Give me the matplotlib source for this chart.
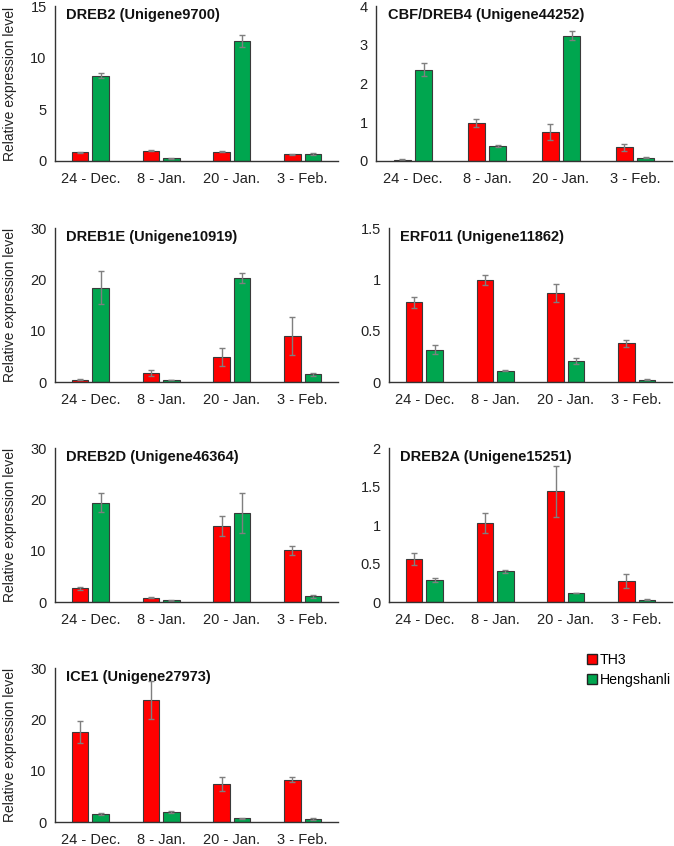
import numpy as np
import matplotlib
matplotlib.use('Agg')
import matplotlib.pyplot as plt
from matplotlib.patches import Patch

plt.rcParams['font.family'] = ['Liberation Sans', 'DejaVu Sans']

dates = ['24 - Dec.', '8 - Jan.', '20 - Jan.', '3 - Feb.']
series = ['TH3', 'Hengshanli']

# gene panels: title, y max, y ticks, TH3 mean/err, Hengshanli mean/err
titles = ['DREB2 (Unigene9700)', 'CBF/DREB4 (Unigene44252)', 'DREB1E (Unigene10919)',
          'ERF011 (Unigene11862)', 'DREB2D (Unigene46364)', 'DREB2A (Unigene15251)',
          'ICE1 (Unigene27973)']
ymax = [15, 4, 30, 1.5, 30, 2, 30]
yticks = [[0, 5, 10, 15], [0, 1, 2, 3, 4], [0, 10, 20, 30], [0, 0.5, 1, 1.5],
          [0, 10, 20, 30], [0, 0.5, 1, 1.5, 2], [0, 10, 20, 30]]
ytick_labels = [['0', '5', '10', '15'], ['0', '1', '2', '3', '4'], ['0', '10', '20', '30'],
                ['0', '0.5', '1', '1.5'], ['0', '10', '20', '30'],
                ['0', '0.5', '1', '1.5', '2'], ['0', '10', '20', '30']]

th3 = [[0.84, 0.97, 0.90, 0.65],
       [0.035, 0.98, 0.75, 0.35],
       [0.45, 1.8, 4.9, 8.96],
       [0.776, 0.99, 0.87, 0.377],
       [2.7, 0.85, 14.9, 10.06],
       [0.563, 1.03, 1.437, 0.273],
       [17.5, 23.8, 7.4, 8.2]]
th3_err = [[0.07, 0.05, 0.07, 0.04],
           [0.01, 0.1, 0.2, 0.08],
           [0.1, 0.6, 1.8, 3.7],
           [0.055, 0.05, 0.088, 0.035],
           [0.3, 0.1, 1.95, 0.85],
           [0.078, 0.13, 0.33, 0.09],
           [2.1, 3.7, 1.4, 0.5]]
heng = [[8.25, 0.26, 11.6, 0.65],
        [2.36, 0.38, 3.23, 0.09],
        [18.4, 0.4, 20.3, 1.5],
        [0.315, 0.11, 0.208, 0.023],
        [19.35, 0.3, 17.3, 1.1],
        [0.28, 0.40, 0.117, 0.03],
        [1.56, 1.95, 0.7, 0.65]]
heng_err = [[0.25, 0.03, 0.6, 0.1],
            [0.17, 0.02, 0.12, 0.01],
            [3.3, 0.05, 1.0, 0.25],
            [0.045, 0.005, 0.03, 0.003],
            [1.8, 0.05, 3.9, 0.3],
            [0.026, 0.017, 0.005, 0.005],
            [0.1, 0.1, 0.05, 0.2]]

red = '#ff0000'
green = '#00a64f'
W, H = 674, 846

# axes boxes in pixels: left, right, top, bottom
boxes = [(55, 338, 6, 161), (376, 672, 6, 161),
         (55, 338, 228, 382), (389, 672, 228, 382),
         (55, 338, 448, 602), (389, 672, 448, 602),
         (55, 338, 668, 822)]

fig = plt.figure(figsize=(W / 100, H / 100), dpi=100)
x = np.arange(len(dates))
bw = 0.23
ekw = dict(ecolor='#7f7f7f', elinewidth=1, capsize=2.5, capthick=1)
for i in range(len(titles)):
    l, r, t, b = boxes[i]
    ax = fig.add_axes([l / W, 1 - b / H, (r - l) / W, (b - t) / H])
    ax.bar(x - 0.145, th3[i], bw, yerr=th3_err[i], color=red, edgecolor='#3a3a3a',
           linewidth=0.8, error_kw=ekw)
    ax.bar(x + 0.145, heng[i], bw, yerr=heng_err[i], color=green, edgecolor='#3a3a3a',
           linewidth=0.8, error_kw=ekw)
    ax.set_xlim(-0.5, 3.5)
    ax.set_ylim(0, ymax[i])
    ax.set_yticks(yticks[i])
    ax.set_yticklabels(ytick_labels[i])
    ax.set_xticks(x)
    ax.set_xticklabels(dates)
    ax.tick_params(axis='both', length=0, labelsize=10.5, colors='#222222')
    ax.tick_params(axis='x', pad=8)
    ax.tick_params(axis='y', pad=6)
    for s in ['top', 'right']:
        ax.spines[s].set_visible(False)
    for s in ['left', 'bottom']:
        ax.spines[s].set_color('#333333')
        ax.spines[s].set_linewidth(1)
    ax.text(0.04, 0.985, titles[i], transform=ax.transAxes, va='top', ha='left',
            fontsize=10.5, fontweight='bold', color='#111111')
    if l < 100:
        ax.set_ylabel('Relative expression level', fontsize=10, color='#222222')
        ax.yaxis.set_label_coords(-(l - 17) / (r - l), 0.5)

handles = [Patch(facecolor=red, edgecolor='#222222', label=series[0]),
           Patch(facecolor=green, edgecolor='#222222', label=series[1])]
fig.legend(handles=handles, loc='upper left', bbox_to_anchor=(587 / W, 1 - 653 / H),
           frameon=False, fontsize=10.2, handlelength=0.7, handleheight=0.7,
           handletextpad=0.2, labelspacing=0.4, borderpad=0, borderaxespad=0)

fig.savefig('out.png', dpi=100)
